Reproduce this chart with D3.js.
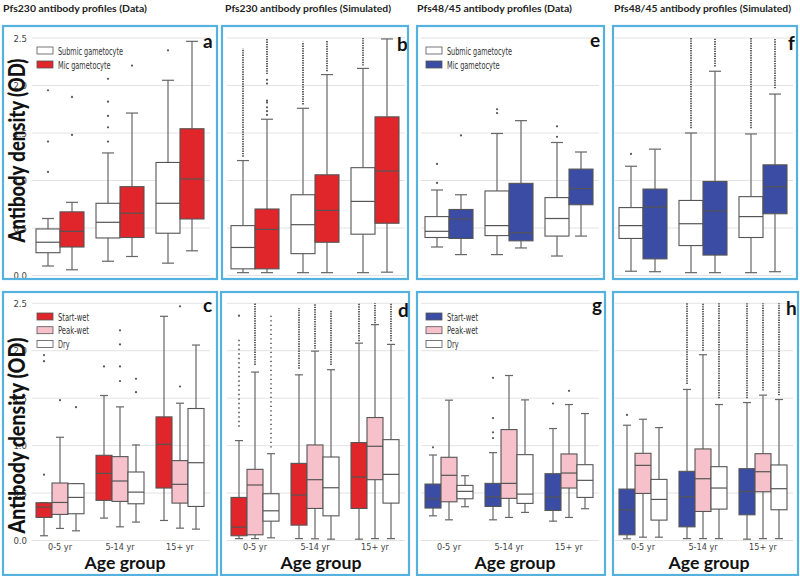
<!DOCTYPE html>
<html><head><meta charset="utf-8">
<script src="https://cdn.jsdelivr.net/npm/d3@7"></script>
<style>body{margin:0;background:#fff}svg{display:block}</style>
</head><body><svg id="c" width="800" height="576"></svg>
<script>
// ---------------- data ----------------
const ageGroups = ["0-5 yr", "5-14 yr", "15+ yr"];
const yTickValues = [0, 0.5, 1, 1.5, 2, 2.5];
const yTickLabels = ["0.0", "0.5", "1.0", "1.5", "2.0", "2.5"];
const gametoSeries = ["Submic gametocyte", "Mic gametocyte"];
const seasonSeries = ["Start-wet", "Peak-wet", "Dry"];
const titles = ["Pfs230 antibody profiles (Data)", "Pfs230 antibody profiles (Simulated)",
                "Pfs48/45 antibody profiles (Data)", "Pfs48/45 antibody profiles (Simulated)"];
const yLabelText = "Antibody density (OD)";
const xLabelText = "Age group";

// box stats per age group: [lower whisker, Q1, median, Q3, upper whisker]
// panel a: Pfs230 data
const aSubmic = [[0.10, 0.24, 0.35, 0.49, 0.60], [0.15, 0.395, 0.56, 0.76, 1.29], [0.13, 0.445, 0.76, 1.19, 2.055]];
const aMic    = [[0.06, 0.30, 0.465, 0.67, 0.77], [0.20, 0.40, 0.655, 0.935, 1.71], [0.26, 0.595, 1.016, 1.545, 2.465]];
const aSubmicOut = [[1.09, 1.41, 1.95], [1.41, 1.56, 1.68, 1.83, 2.07], [2.37]];
const aMicOut    = [[1.48, 1.88], [2.21], []];
// panel b: Pfs230 simulated
const bSubmic = [[0.03, 0.07, 0.295, 0.525, 1.21], [0.03, 0.23, 0.535, 0.85, 1.76], [0.03, 0.435, 0.78, 1.135, 2.18]];
const bMic    = [[0.03, 0.07, 0.485, 0.70, 1.645], [0.03, 0.35, 0.685, 1.06, 2.115], [0.035, 0.55, 1.10, 1.67, 2.49]];
const bSubmicOut = [[], [], []];
const bMicOut    = [[1.69, 1.73, 1.77, 1.82, 1.84, 2.02, 2.06], [], []];
const bSubmicDense = [[1.25, 2.39], [1.80, 2.46], [2.21, 2.5]];
const bMicDense    = [[2.12, 2.5], [2.15, 2.47], null];
// panel e: Pfs48/45 data
const eSubmic = [[0.30, 0.40, 0.465, 0.62, 0.90], [0.22, 0.42, 0.525, 0.89, 1.495], [0.205, 0.415, 0.60, 0.82, 1.40]];
const eMic    = [[0.22, 0.39, 0.595, 0.695, 0.85], [0.29, 0.365, 0.45, 0.97, 1.63], [0.415, 0.745, 0.915, 1.12, 1.30]];
const eSubmicOut = [[0.975, 1.175], [1.71, 1.75], [1.46, 1.57]];
const eMicOut    = [[1.475], [], []];
// panel f: Pfs48/45 simulated
const fSubmic = [[0.045, 0.39, 0.525, 0.715, 1.15], [0.03, 0.315, 0.545, 0.79, 1.50], [0.03, 0.40, 0.62, 0.83, 1.49]];
const fMic    = [[0.04, 0.175, 0.72, 0.91, 1.33], [0.03, 0.215, 0.68, 0.99, 2.15], [0.04, 0.65, 0.935, 1.165, 1.91]];
const fSubmicOut = [[1.28], [], []];
const fMicOut    = [[], [], []];
const fSubmicDense = [null, [1.55, 2.5], [1.55, 2.5]];
const fMicDense    = [null, [2.2, 2.5], [1.97, 2.5]];
// panel c: Pfs230 data by season
const cStart = [[0.05, 0.243, 0.352, 0.398, 0.398], [0.236, 0.423, 0.708, 0.898, 1.528], [0.211, 0.553, 1.014, 1.303, 2.363]];
const cPeak  = [[0.127, 0.275, 0.401, 0.606, 1.088], [0.144, 0.412, 0.627, 0.884, 1.408], [0.13, 0.394, 0.592, 0.842, 1.447]];
const cDry   = [[0.102, 0.282, 0.454, 0.599, 0.599], [0.194, 0.387, 0.51, 0.722, 1.007], [0.12, 0.359, 0.82, 1.391, 2.06]];
const cStartOut = [[0.694, 1.89, 1.954], [1.835], []];
const cPeakOut  = [[1.479], [1.68, 1.835, 2.067, 2.215], [1.623, 2.468]];
const cDryOut   = [[1.405], [1.563, 1.704], []];
// panel d: Pfs230 simulated by season
const dStart = [[0.02, 0.05, 0.14, 0.454, 1.053], [0.02, 0.162, 0.479, 0.813, 1.746], [0.014, 0.338, 0.669, 1.032, 2.08]];
const dPeak  = [[0.02, 0.06, 0.585, 0.75, 1.775], [0.018, 0.338, 0.641, 1.007, 1.996], [0.02, 0.641, 0.993, 1.296, 2.275]];
const dDry   = [[0.028, 0.204, 0.313, 0.493, 0.915], [0.014, 0.26, 0.556, 0.88, 1.8], [0.02, 0.394, 0.697, 1.063, 2.067]];
const dStartOut = [[2.37], [], []];
const dStartSparse = [[1.2, 2.13], null, null];
const dDrySparse   = [[0.98, 2.4], null, null];
const dStartDense = [null, [1.81, 2.45], [2.1, 2.5]];
const dPeakDense  = [[1.85, 2.5], [2.02, 2.5], [2.29, 2.5]];
const dDryDense   = [null, [1.85, 2.43], [2.1, 2.5]];
// panel g: Pfs48/45 data by season
const gStart = [[0.26, 0.342, 0.44, 0.595, 0.901], [0.218, 0.359, 0.461, 0.602, 0.926], [0.204, 0.317, 0.458, 0.704, 1.18]];
const gPeak  = [[0.218, 0.408, 0.687, 0.877, 1.479], [0.243, 0.444, 0.602, 1.169, 1.739], [0.243, 0.553, 0.711, 0.912, 1.433]];
const gDry   = [[0.356, 0.44, 0.518, 0.581, 0.683], [0.296, 0.391, 0.489, 0.905, 1.482], [0.335, 0.454, 0.634, 0.799, 1.338]];
const gStartOut = [[0.982], [1.08, 1.14, 1.29, 1.715], [1.444]];
const gPeakOut  = [[], [], [1.577]];
const gDryOut   = [[], [], []];
// panel h: Pfs48/45 simulated by season
const hStart = [[0.018, 0.06, 0.324, 0.542, 1.215], [0.02, 0.144, 0.461, 0.729, 1.592], [0.014, 0.271, 0.518, 0.757, 1.454]];
const hPeak  = [[0.035, 0.496, 0.792, 0.919, 1.278], [0.02, 0.306, 0.651, 0.965, 1.958], [0.02, 0.514, 0.725, 0.915, 1.532]];
const hDry   = [[0.035, 0.215, 0.433, 0.644, 1.19], [0.02, 0.331, 0.553, 0.778, 1.433], [0.02, 0.324, 0.546, 0.796, 1.486]];
const hStartOut = [[1.324], [], []];
const hStartDense = [null, [1.65, 2.5], [1.5, 2.5]];
const hPeakDense  = [null, [2.0, 2.5], [1.58, 2.5]];
const hDryDense   = [null, [1.5, 2.5], [1.53, 2.5]];

// ---------------- styles ----------------
const RED = "#e1262b", BLUE = "#3a4ca4", PINK = "#f7c1cb", WHITE = "#ffffff";
const EDGE = "#555555", FRAME = "#55b2de", GRID = "#e3e3e3";
const NARROW = "'Liberation Sans Narrow','Arial Narrow','DejaVu Sans Condensed',sans-serif";
const BOLD = "Lato,'Open Sans',sans-serif";
const legendWidths = {"Submic gametocyte": 65, "Mic gametocyte": 52.5, "Start-wet": 31, "Peak-wet": 31, "Dry": 11.5};

const topY = [275.5, 38], botY = [540.5, 303.3];
const panels = [
  {letter: "a", frame: [3, 26, 214, 253], xr: [30, 210], yr: topY, letterPos: [203, 48], yAxis: true, legend: [37, 47],
   title: [titles[0], 3, 11.5, 144],
   series: [{name: gametoSeries[0], fill: WHITE, stats: aSubmic, out: aSubmicOut},
            {name: gametoSeries[1], fill: RED, stats: aMic, out: aMicOut}]},
  {letter: "b", frame: [222, 26, 186, 253], xr: [225, 405], yr: topY, letterPos: [397, 51],
   title: [titles[1], 225, 11.5, 166],
   series: [{name: gametoSeries[0], fill: WHITE, stats: bSubmic, out: bSubmicOut, dense: bSubmicDense},
            {name: gametoSeries[1], fill: RED, stats: bMic, out: bMicOut, dense: bMicDense}]},
  {letter: "e", frame: [417, 26, 187, 253], xr: [419, 599], yr: topY, letterPos: [590, 47], legend: [426, 47],
   title: [titles[2], 417, 11.5, 155],
   series: [{name: gametoSeries[0], fill: WHITE, stats: eSubmic, out: eSubmicOut},
            {name: gametoSeries[1], fill: BLUE, stats: eMic, out: eMicOut}]},
  {letter: "f", frame: [613, 26, 184, 253], xr: [613, 793], yr: topY, letterPos: [788, 50],
   title: [titles[3], 614, 11.5, 177],
   series: [{name: gametoSeries[0], fill: WHITE, stats: fSubmic, out: fSubmicOut, dense: fSubmicDense},
            {name: gametoSeries[1], fill: BLUE, stats: fMic, out: fMicOut, dense: fMicDense}]},
  {letter: "c", frame: [3, 292, 214, 283], xr: [30, 210], yr: botY, letterPos: [203, 312], yAxis: true, xAxis: true,
   legend: [37, 313], xLabelX: 125,
   series: [{name: seasonSeries[0], fill: RED, stats: cStart, out: cStartOut},
            {name: seasonSeries[1], fill: PINK, stats: cPeak, out: cPeakOut},
            {name: seasonSeries[2], fill: WHITE, stats: cDry, out: cDryOut}]},
  {letter: "d", frame: [221, 292, 188, 283], xr: [225, 405], yr: botY, letterPos: [398, 316.5], xAxis: true, xLabelX: 321,
   series: [{name: seasonSeries[0], fill: RED, stats: dStart, out: dStartOut, dense: dStartDense, sparse: dStartSparse},
            {name: seasonSeries[1], fill: PINK, stats: dPeak, dense: dPeakDense},
            {name: seasonSeries[2], fill: WHITE, stats: dDry, dense: dDryDense, sparse: dDrySparse}]},
  {letter: "g", frame: [417, 292, 188, 283], xr: [419, 599], yr: botY, letterPos: [592, 312], xAxis: true,
   legend: [426, 313], xLabelX: 515,
   series: [{name: seasonSeries[0], fill: BLUE, stats: gStart, out: gStartOut},
            {name: seasonSeries[1], fill: PINK, stats: gPeak, out: gPeakOut},
            {name: seasonSeries[2], fill: WHITE, stats: gDry, out: gDryOut}]},
  {letter: "h", frame: [613, 292, 185, 283], xr: [613, 793], yr: botY, letterPos: [786, 315], xAxis: true, xLabelX: 709,
   series: [{name: seasonSeries[0], fill: BLUE, stats: hStart, out: hStartOut, dense: hStartDense},
            {name: seasonSeries[1], fill: PINK, stats: hPeak, dense: hPeakDense},
            {name: seasonSeries[2], fill: WHITE, stats: hDry, dense: hDryDense}]}
];

const svg = d3.select("#c");
svg.append("rect").attr("width", 800).attr("height", 576).attr("fill", "#fff");

panels.forEach(p => {
  const g = svg.append("g");
  const y = d3.scaleLinear().domain([0, 2.5]).range(p.yr);
  const x = d3.scaleBand().domain(ageGroups).range(p.xr);
  const names = p.series.map(s => s.name);
  const xs = d3.scaleBand().domain(names).range([x.bandwidth() * 0.1, x.bandwidth() * 0.9]);
  const bw = xs.bandwidth();

  // gridlines
  g.append("g").selectAll("line").data(yTickValues).join("line")
    .attr("x1", p.xr[0] + 2).attr("x2", p.xr[1]).attr("y1", d => y(d)).attr("y2", d => y(d))
    .attr("stroke", GRID).attr("stroke-width", 1);

  if (p.yAxis) {
    const ax = g.append("g").attr("transform", `translate(${p.xr[0] - 1},0)`)
      .call(d3.axisLeft(y).tickValues(yTickValues).tickFormat((d, i) => yTickLabels[i]).tickSize(0).tickPadding(2));
    ax.select(".domain").remove();
    ax.selectAll("text").attr("font-family", NARROW).attr("font-size", 9.5).attr("fill", "#444");
    const cy = (p.frame[1] + p.frame[1] + p.frame[3]) / 2 + (p.xAxis ? 2 : -2);
    g.append("text").text(yLabelText)
      .attr("transform", `translate(25,${cy}) rotate(-90)`)
      .attr("text-anchor", "middle").attr("font-family", BOLD).attr("font-weight", 900)
      .attr("font-size", 23).attr("fill", "#111")
      .attr("textLength", p.xAxis ? 196 : 184).attr("lengthAdjust", "spacingAndGlyphs");
  }
  if (p.xAxis) {
    const ax = g.append("g").attr("transform", `translate(0,${y(0)})`)
      .call(d3.axisBottom(x).tickSize(0).tickPadding(3.5));
    ax.select(".domain").remove();
    ax.selectAll("text").attr("font-family", NARROW).attr("font-size", 9).attr("fill", "#444");
    g.append("text").text(xLabelText).attr("x", p.xLabelX).attr("y", 569)
      .attr("text-anchor", "middle").attr("font-family", BOLD).attr("font-weight", 700)
      .attr("font-size", 17.5).attr("fill", "#111")
      .attr("textLength", 81).attr("lengthAdjust", "spacingAndGlyphs");
  }

  // boxes
  p.series.forEach(s => {
    ageGroups.forEach((ag, i) => {
      const st = s.stats[i];
      const cx = x(ag) + xs(s.name) + bw / 2;
      const bg = g.append("g");
      // outlier columns (dense / sparse)
      if (s.dense && s.dense[i]) {
        bg.append("line").attr("x1", cx).attr("x2", cx)
          .attr("y1", y(s.dense[i][0])).attr("y2", y(s.dense[i][1]))
          .attr("stroke", EDGE).attr("stroke-width", 1.8).attr("stroke-dasharray", "1.4,1.0");
      }
      if (s.sparse && s.sparse[i]) {
        bg.append("line").attr("x1", cx).attr("x2", cx)
          .attr("y1", y(s.sparse[i][0])).attr("y2", y(s.sparse[i][1]))
          .attr("stroke", EDGE).attr("stroke-width", 1.6).attr("stroke-dasharray", "1.3,3.2");
      }
      if (s.out) {
        bg.selectAll("circle").data(s.out[i]).join("circle")
          .attr("cx", cx).attr("cy", d => y(d)).attr("r", 1.1).attr("fill", EDGE);
      }
      // whiskers
      bg.append("line").attr("x1", cx).attr("x2", cx).attr("y1", y(st[0])).attr("y2", y(st[1]))
        .attr("stroke", "#666").attr("stroke-width", 1.2);
      bg.append("line").attr("x1", cx).attr("x2", cx).attr("y1", y(st[3])).attr("y2", y(st[4]))
        .attr("stroke", "#666").attr("stroke-width", 1.2);
      [st[0], st[4]].forEach(v => {
        bg.append("line").attr("x1", cx - bw / 4).attr("x2", cx + bw / 4).attr("y1", y(v)).attr("y2", y(v))
          .attr("stroke", "#666").attr("stroke-width", 1.2);
      });
      // box
      bg.append("rect").attr("x", cx - bw / 2).attr("width", bw)
        .attr("y", y(st[3])).attr("height", y(st[1]) - y(st[3]))
        .attr("fill", s.fill).attr("stroke", EDGE).attr("stroke-width", 1.1);
      bg.append("line").attr("x1", cx - bw / 2).attr("x2", cx + bw / 2).attr("y1", y(st[2])).attr("y2", y(st[2]))
        .attr("stroke", EDGE).attr("stroke-width", 1.2);
    });
  });

  // legend
  if (p.legend) {
    const lg = g.append("g").attr("transform", `translate(${p.legend[0]},${p.legend[1]})`);
    const step = p.series.length === 2 ? 14 : 13.7;
    p.series.forEach((s, i) => {
      lg.append("rect").attr("x", 0).attr("y", i * step).attr("width", 16).attr("height", 7)
        .attr("fill", s.fill).attr("stroke", EDGE).attr("stroke-width", 0.8);
      lg.append("text").text(s.name).attr("x", 21).attr("y", i * step + 7.5)
        .attr("font-family", NARROW).attr("font-size", 10).attr("fill", "#333")
        .attr("textLength", legendWidths[s.name]).attr("lengthAdjust", "spacingAndGlyphs");
    });
  }

  // panel letter
  g.append("text").text(p.letter).attr("x", p.letterPos[0]).attr("y", p.letterPos[1])
    .attr("font-family", BOLD).attr("font-weight", 700).attr("font-size", 19).attr("fill", "#111");

  // title
  if (p.title) {
    svg.append("text").text(p.title[0]).attr("x", p.title[1]).attr("y", p.title[2])
      .attr("font-family", BOLD).attr("font-weight", 700).attr("font-size", 10).attr("fill", "#222")
      .attr("textLength", p.title[3]).attr("lengthAdjust", "spacingAndGlyphs");
  }

  // frame
  svg.append("rect").attr("x", p.frame[0]).attr("y", p.frame[1]).attr("width", p.frame[2]).attr("height", p.frame[3])
    .attr("fill", "none").attr("stroke", FRAME).attr("stroke-width", 2.2);
});
</script></body></html>
